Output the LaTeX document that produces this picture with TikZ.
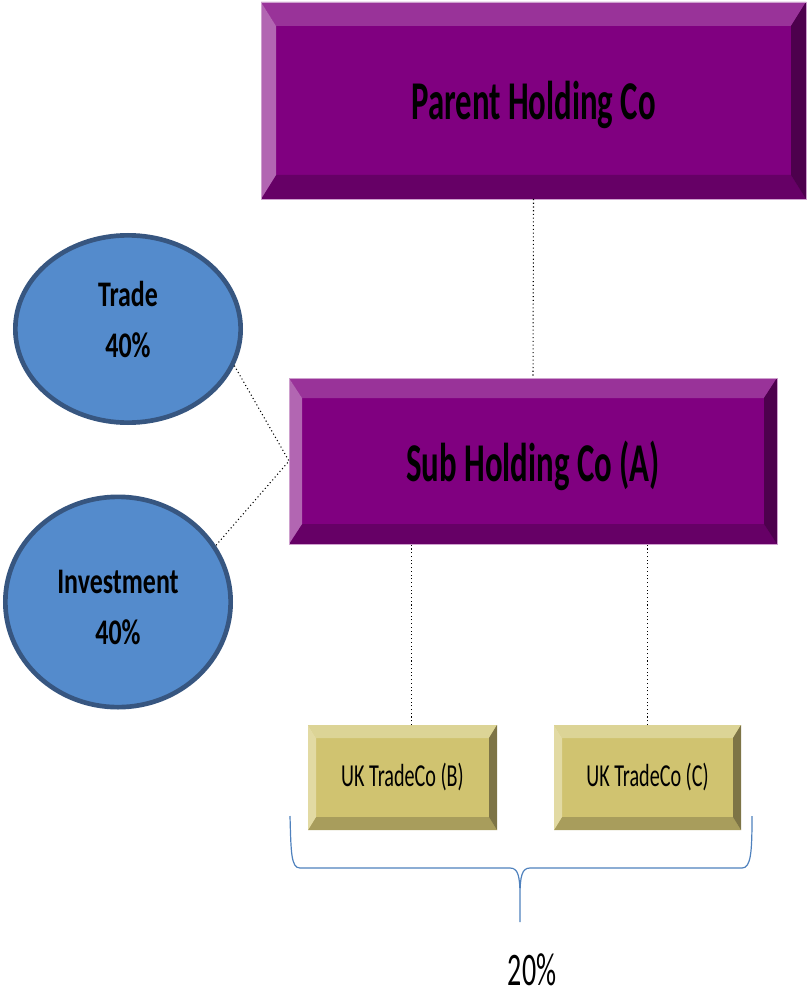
\documentclass[tikz,border=0pt]{standalone}
\usepackage{fontspec}
\setmainfont{Carlito}[FakeStretch=0.6]
\newfontfamily\orbfont{Carlito}[FakeStretch=0.72]
\newfontfamily\ukfont{Carlito}[FakeStretch=0.63]
\usepackage{xcolor}
\definecolor{hcface}{RGB}{128,0,128}
\definecolor{hctop}{RGB}{153,51,153}
\definecolor{hcleft}{RGB}{178,102,178}
\definecolor{hcright}{RGB}{77,0,77}
\definecolor{hcbot}{RGB}{102,0,102}
\definecolor{hcedge}{RGB}{206,160,206}
\definecolor{ukface}{RGB}{208,195,112}
\definecolor{uktop}{RGB}{220,212,150}
\definecolor{ukleft}{RGB}{226,218,163}
\definecolor{ukright}{RGB}{125,116,70}
\definecolor{ukbot}{RGB}{168,157,92}
\definecolor{orbfill}{RGB}{84,139,204}
\definecolor{orbring}{RGB}{55,86,128}
\definecolor{bracecol}{RGB}{79,129,189}
\usepackage{tikz}
\usetikzlibrary{positioning, calc, shapes.geometric}

% bevelled edges round a box node: name, inset x, inset y, colour prefix
\newcommand{\bevel}[4]{%
  \fill[#4top] (#1.north west) -- (#1.north east)
    -- ([shift={(-#2,-#3)}]#1.north east) -- ([shift={(#2,-#3)}]#1.north west) -- cycle;
  \fill[#4bot] (#1.south west) -- (#1.south east)
    -- ([shift={(-#2,#3)}]#1.south east) -- ([shift={(#2,#3)}]#1.south west) -- cycle;
  \fill[#4left] (#1.north west) -- ([shift={(#2,-#3)}]#1.north west)
    -- ([shift={(#2,#3)}]#1.south west) -- (#1.south west) -- cycle;
  \fill[#4right] (#1.north east) -- ([shift={(-#2,-#3)}]#1.north east)
    -- ([shift={(-#2,#3)}]#1.south east) -- (#1.south east) -- cycle;
}

\begin{document}
\begin{tikzpicture}[x=0.75pt, y=-0.75pt,
    holdbox/.style={rectangle, fill=hcface, inner sep=0pt, outer sep=0pt,
      text depth=0pt, font=\fontsize{41}{44}\selectfont\bfseries},
    ukbox/.style={rectangle, fill=ukface, inner sep=0pt, outer sep=0pt,
      minimum height=78.75pt, font=\ukfont\fontsize{24}{26}\selectfont},
    orb/.style={ellipse, fill=orbfill, draw=orbring, line width=3.5pt,
      inner sep=0pt},
    orbtext/.style={align=center, inner sep=0pt,
      font=\orbfont\fontsize{27}{38}\selectfont\bfseries},
    link/.style={dotted, line width=0.8pt, black}]
  \useasboundingbox (0,0) rectangle (806,998);

  % holding companies
  \node[holdbox, minimum width=408.75pt, minimum height=147.75pt]
        (parent) at (533.5,100.5) {Parent Holding Co};
  \bevel{parent}{11.25pt}{18pt}{hc}
  \draw[hcedge, line width=0.5pt] (parent.north west) rectangle (parent.south east);

  \node[holdbox, minimum width=366pt, minimum height=124.5pt]
        (sub) at (533,461) {Sub Holding Co (A)};
  \bevel{sub}{9.75pt}{15pt}{hc}
  \draw[hcedge, line width=0.5pt] (sub.north west) rectangle (sub.south east);

  % trading companies
  \node[ukbox, minimum width=141.75pt] (ukB) at (402.5,777.5) {UK TradeCo (B)};
  \bevel{ukB}{6pt}{9.75pt}{uk}
  \node[ukbox, minimum width=140.25pt] (ukC) at (647.5,777.5) {UK TradeCo (C)};
  \bevel{ukC}{6pt}{9.75pt}{uk}

  % shareholders
  \node[orb, minimum width=169pt, minimum height=140.5pt,
        label={[orbtext, yshift=7pt]center:Trade\\40\%}] (trade) at (128,329) {};
  \node[orb, minimum width=169pt, minimum height=157.75pt,
        label={[orbtext, yshift=-4pt]center:Investment\\40\%}] (invest) at (118,602) {};

  % links
  \draw[link] (parent.south) -- (sub.north);
  \draw[link] (trade.-19) -- (sub.west) -- (invest.30);
  \draw[link] ([xshift=6.5pt]ukB.north) -- ([xshift=6.5pt]ukB.north |- sub.south);
  \draw[link] (ukC.north) -- (ukC.north |- sub.south);

  % brace under the trading companies
  \coordinate (braceL) at (290,816);
  \coordinate (braceR) at (752,816);
  \coordinate (braceTip) at (520,922);
  \draw[bracecol, line width=0.9pt]
    (braceL) .. controls (291,852) and (291,868) .. (300,868) -- (510,868)
    .. controls (518,868) and (520,876) .. (520,896) -- (braceTip)
    (520,896) .. controls (520,876) and (522,868) .. (530,868) -- (742,868)
    .. controls (751,868) and (752,852) .. (braceR);
  \node[anchor=base, inner sep=0pt, font=\fontsize{35}{40}\selectfont]
        (share) at (532,985) {20\%};
\end{tikzpicture}
\end{document}
